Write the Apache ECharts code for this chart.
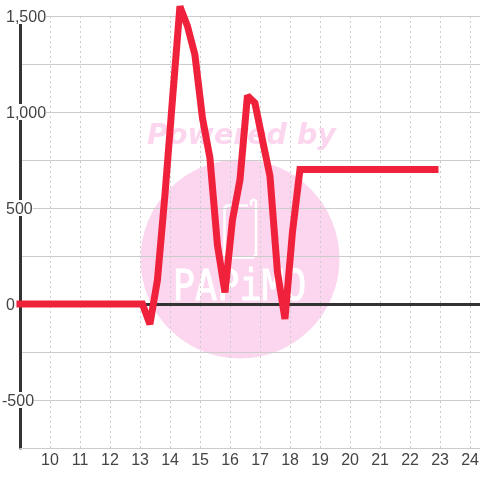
<!DOCTYPE html>
<html><head><meta charset="utf-8">
<style>html,body{margin:0;padding:0;background:#fff}#c{width:480px;height:480px}</style>
<script src="https://cdn.jsdelivr.net/npm/echarts@6/dist/echarts.min.js"></script></head>
<body><div id="c"></div>
<script>
const xValues = [9, 13.08, 13.33, 13.58, 13.83, 14.08, 14.33, 14.58, 14.83, 15.08, 15.33, 15.58, 15.83, 16.08, 16.33, 16.58, 16.83, 17.08, 17.33, 17.58, 17.83, 18.08, 18.33, 22.83];
const yValues = [0, 0, -105, 125, 568, 1062, 1550, 1448, 1297, 969, 760, 307, 60, 437, 646, 1085, 1047, 854, 667, 167, -78, 375, 700, 700];
const yLabels = {'1500':'1,500','1000':'1,000','500':'500','0':'0','-500':'-500'};
const lineData = xValues.map((x, i) => [x, yValues[i]]);
const pink = '#fbd6ee';
const chart = echarts.init(document.getElementById('c'), null, {renderer:'canvas'});
const labelFont = {fontFamily:'Liberation Sans', fontSize:16, color:'#444'};
chart.setOption({
  animation:false,
  backgroundColor:'#fff',
  grid:{left:20, right:0, top:16, bottom:32, containLabel:false, outerBoundsMode:'none'},
  graphic:[
    {type:'circle', z:-1, silent:true, shape:{cx:240, cy:259, r:99.5}, style:{fill:pink}},
    {type:'text', z:-1, silent:true, x:241.5, y:136.5, style:{text:'Powered by', font:'italic bold 28.5px "DejaVu Sans"', fill:pink, align:'center', verticalAlign:'middle'}},
    {type:'text', z:-1, silent:true, x:239.5, y:289, scaleY:1.15, style:{text:'PAPiMO', font:'37px "DejaVu Sans Mono"', fill:'#fff', stroke:'#fff', lineWidth:0.8, align:'center', verticalAlign:'middle'}},
    {type:'polyline', z:-1, silent:true, shape:{points:[[248,205.5],[227,205.5],[224.5,208],[224.5,255],[227,257.5],[253,257.5],[256,255],[256,201],[253.5,199.5],[251,201],[251,205.5]]}, style:{fill:'none', stroke:'#fff', lineWidth:2.5, lineJoin:'round'}}
  ],
  xAxis:[
    {type:'value', min:9, max:24.33, interval:1, position:'bottom',
     axisLine:{onZero:false, lineStyle:{color:'#ccc', width:1}}, axisTick:{show:false},
     axisLabel:{...labelFont, lineHeight:16, margin:5, showMinLabel:false, showMaxLabel:false, hideOverlap:false,
       formatter:v => (v>=10 && v<=24 && Number.isInteger(v)) ? String(v) : ''},
     splitLine:{show:true, lineStyle:{color:'#ccc', type:[2,3], width:1}}},
    {type:'value', min:9, max:24.33, interval:1, position:'bottom',
     axisLine:{show:true, onZero:true, lineStyle:{color:'#333', width:3}}, axisTick:{show:false},
     axisLabel:{show:false}, splitLine:{show:false}}
  ],
  yAxis:{type:'value', min:-750, max:1500, interval:250,
    axisLine:{show:true, lineStyle:{color:'#333', width:3}}, axisTick:{show:false},
    axisLabel:{inside:true, margin:-18, align:'left', verticalAlign:'middle', z:5, ...labelFont, lineHeight:12,
      padding:[4,0,0,0], backgroundColor:'#fff',
      formatter:v => { const s = yLabels[String(v)]; if(!s) return ''; return v<0 ? s : '{p|'+s+'}'; },
      rich:{p:{...labelFont, lineHeight:12, padding:[0,0,0,4]}}},
    splitLine:{show:true, lineStyle:{color:'#ccc', width:1}}},
  series:[{type:'line', xAxisIndex:0, data:lineData, showSymbol:false, symbol:'none', clip:false, z:3,
    lineStyle:{color:'#f0213a', width:7, join:'miter', miterLimit:2, cap:'square'}}]
});
</script></body></html>
